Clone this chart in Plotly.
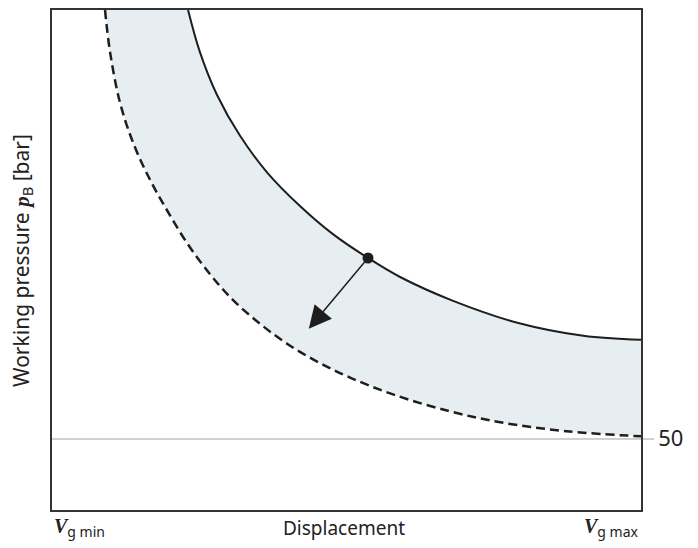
import plotly.graph_objects as go

# Displacement in % (0 = Vg min, 100 = Vg max), pressure in bar
upper_x = [23.1, 25.1, 28.0, 31.9, 36.5, 42.1, 47.7, 53.65, 59.1, 68.1, 79.0, 90.2, 100.0]
upper_p = [350.0, 320.7, 290.7, 262.1, 236.4, 212.8, 193.1, 176.4, 163.1, 146.4, 131.1, 122.0, 119.2]

lower_x = [9.0, 9.85, 11.5, 13.75, 16.6, 19.5, 22.9, 26.8, 30.7, 35.3, 39.9, 45.0, 50.6, 57.9, 67.6, 76.1, 87.4, 100.0]
lower_p = [350.0, 320.7, 285.9, 257.3, 231.5, 210.0, 187.0, 165.2, 147.1, 130.4, 116.4, 103.9, 92.7, 80.9, 69.0, 61.4, 55.1, 51.6]

point_x = [53.65]
point_p = [176.4]
arrow_tip = (43.6, 126.9)

min_pressure = 50
x_range = [0, 100]
p_range = [0, 350]

ink = "#1e1e1e"
fill_col = "#e7eef2"
font_main = "Noto Sans"

fig = go.Figure()

# shaded band: invisible lower edge, then upper edge filled down to it
fig.add_trace(go.Scatter(x=lower_x, y=lower_p, mode="lines", line_shape="spline",
                         line=dict(width=0, color=fill_col), hoverinfo="skip", showlegend=False))
fig.add_trace(go.Scatter(x=upper_x, y=upper_p, mode="lines", line_shape="spline",
                         line=dict(width=0, color=fill_col), fill="tonexty", fillcolor=fill_col,
                         hoverinfo="skip", showlegend=False))

fig.add_trace(go.Scatter(x=lower_x, y=lower_p, mode="lines", line_shape="spline",
                         line=dict(color=ink, width=2.5, dash="9px,5px"), showlegend=False))
fig.add_trace(go.Scatter(x=upper_x, y=upper_p, mode="lines", line_shape="spline",
                         line=dict(color=ink, width=2), showlegend=False))
fig.add_trace(go.Scatter(x=point_x, y=point_p, mode="markers",
                         marker=dict(color=ink, size=11), showlegend=False))

fig.add_annotation(x=arrow_tip[0], y=arrow_tip[1], ax=point_x[0], ay=point_p[0],
                   xref="x", yref="y", axref="x", ayref="y", text="", showarrow=True,
                   arrowhead=2, arrowsize=3.0, arrowwidth=1.5, arrowcolor=ink,
                   standoff=0, startstandoff=0)

vfont = "<span style='font-family:Liberation Serif'><b><i>V</i></b></span>"
lab_y = -0.036
fig.add_annotation(x=0, y=lab_y, xref="paper", yref="paper", xanchor="left", yanchor="middle",
                   text=vfont + "<sub>g min</sub>", showarrow=False,
                   font=dict(family=font_main, size=20, color="#222"))
fig.add_annotation(x=1, y=lab_y, xref="paper", yref="paper", xanchor="right", yanchor="middle",
                   text=vfont + "<sub>g max</sub>", showarrow=False,
                   font=dict(family=font_main, size=20, color="#222"))
fig.add_annotation(x=0.495, y=lab_y, xref="paper", yref="paper", xanchor="center", yanchor="middle",
                   text="Displacement", showarrow=False,
                   font=dict(family=font_main, size=19, color="#222"))
fig.add_annotation(x=-0.051, y=0.5, xref="paper", yref="paper", xanchor="center", yanchor="middle",
                   textangle=-90,
                   text="Working pressure <span style='font-family:Liberation Serif'><b><i>p</i></b></span><sub>B</sub> [bar]",
                   showarrow=False, font=dict(family=font_main, size=21, color="#222"))

fig.update_layout(
    width=698, height=548,
    margin=dict(l=52, r=57, t=8, b=38),
    plot_bgcolor="white", paper_bgcolor="white",
    font=dict(family=font_main, color="#222"),
    xaxis=dict(range=x_range, showgrid=False, zeroline=False, showticklabels=False,
               ticks="", showline=True, linecolor="#333", linewidth=1.5, mirror=True),
    yaxis=dict(range=p_range, side="right", tickvals=[min_pressure], ticktext=["50"],
               showgrid=True, gridcolor="#d0d0d0", gridwidth=1.5, zeroline=False,
               ticks="outside", ticklen=11, tickcolor="#d0d0d0", tickwidth=1.5,
               tickfont=dict(size=22, color="#222", family=font_main),
               showline=True, linecolor="#333", linewidth=1.5, mirror=True),
)

fig.write_html("out.html", config={"displayModeBar": False},
               post_script="document.body.style.margin='0px';")
